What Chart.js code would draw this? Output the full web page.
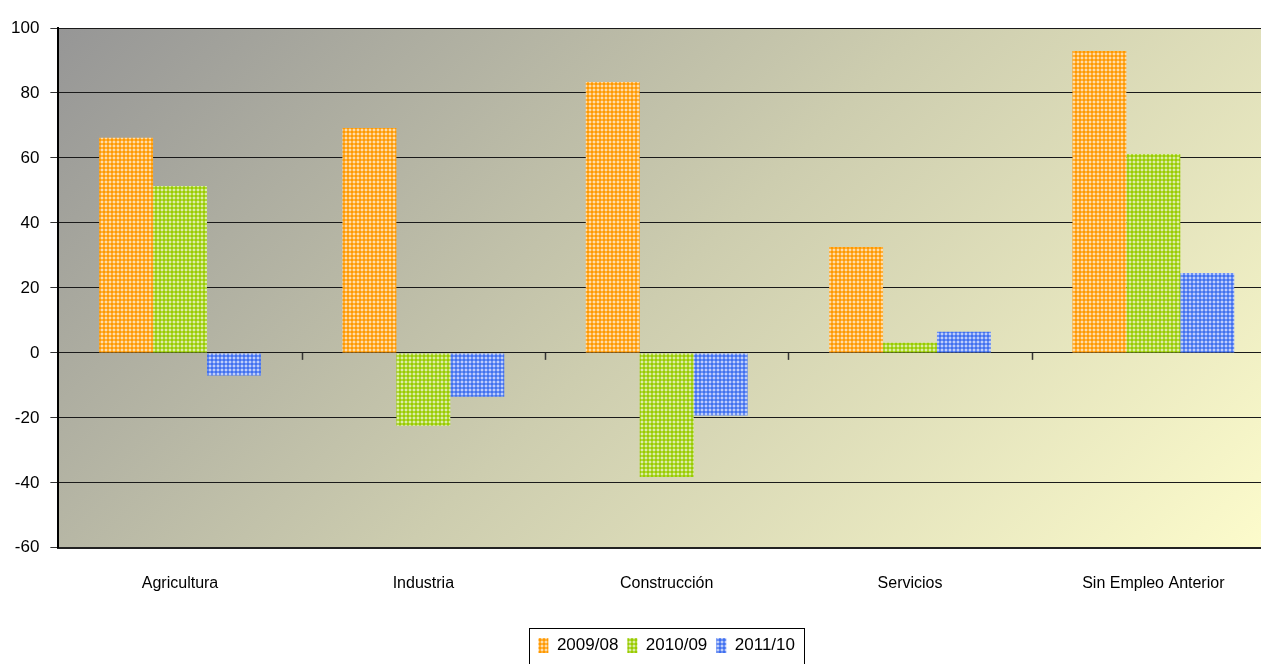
<!DOCTYPE html>
<html>
<head>
<meta charset="utf-8">
<script src="https://cdn.jsdelivr.net/npm/chart.js@4.4.1/dist/chart.umd.min.js"></script>
<style>
  html,body{margin:0;padding:0;background:#fff;overflow:hidden}
  #wrap{position:absolute;left:0;top:0;width:1280px;height:687px}
</style>
</head>
<body>
<div id="wrap"><canvas id="chart"></canvas></div>
<script>
// data
const categories = ['Agricultura','Industria','Construcción','Servicios','Sin Empleo Anterior'];
const seriesNames = ['2009/08','2010/09','2011/10'];
const v2009 = [66.2, 69.2, 83.4, 32.6, 92.9];
const v2010 = [51.4, -22.4, -38.2, 3.1, 61.2];
const v2011 = [-7.0, -13.5, -19.3, 6.5, 24.6];
const yTicks = [-60,-40,-20,0,20,40,60,80,100];

const FONT = 'Arial, "Liberation Sans", sans-serif';

// checked dotted fill like the old office charts
function dots(base) {
  const c = document.createElement('canvas');
  c.width = 4; c.height = 4;
  const g = c.getContext('2d');
  g.fillStyle = base; g.fillRect(0,0,4,4);
  g.fillStyle = 'rgba(255,255,255,0.22)';
  g.fillRect(0,1,4,2); g.fillRect(1,0,2,4);
  g.fillStyle = 'rgba(255,255,255,0.45)';
  g.fillRect(1,1,2,2);
  return g.createPattern(c, 'repeat');
}
const fills = [dots('#FF9900'), dots('#99CC00'), dots('#4070F0')];

const bgPlugin = {
  id: 'plotBg',
  beforeDraw(chart) {
    const {ctx, chartArea:a} = chart;
    const w = a.right - a.left, h = a.bottom - a.top, d = (w + h) / 2;
    const g = ctx.createLinearGradient(a.left, a.top, a.left + d, a.top + d);
    g.addColorStop(0, '#969696');
    g.addColorStop(0.5, '#CDCDAF');
    g.addColorStop(1, '#FDFCCC');
    ctx.save();
    ctx.fillStyle = g;
    ctx.fillRect(a.left, a.top, w, h);
    ctx.restore();
  }
};

// small tick marks between categories on the zero line + legend frame
const extraPlugin = {
  id: 'extras',
  afterDatasetsDraw(chart) {
    const {ctx, scales:{x, y}} = chart;
    const y0 = y.getPixelForValue(0);
    ctx.save();
    ctx.strokeStyle = '#333';
    ctx.lineWidth = 1.5;
    for (let i = 1; i < categories.length; i++) {
      const px = Math.round((x.getPixelForValue(i-1) + x.getPixelForValue(i)) / 2) + 0.5;
      ctx.beginPath(); ctx.moveTo(px, y0); ctx.lineTo(px, y0 + 7); ctx.stroke();
    }
    ctx.restore();
  },
  afterDraw(chart) {
    const boxes = chart.legend.legendHitBoxes;
    if (!boxes || !boxes.length) return;
    const l = Math.min(...boxes.map(b=>b.left)) - 9;
    const r = Math.max(...boxes.map(b=>b.left + b.width)) + 9;
    const t = boxes[0].top - 9;
    const ctx = chart.ctx;
    ctx.save();
    ctx.strokeStyle = '#000'; ctx.lineWidth = 1;
    ctx.strokeRect(Math.round(l)+0.5, Math.round(t)+0.5, Math.round(r-l), 40);
    ctx.restore();
  }
};

new Chart(document.getElementById('chart'), {
  type: 'bar',
  data: {
    labels: categories,
    datasets: [
      { label: seriesNames[0], data: v2009, backgroundColor: fills[0] },
      { label: seriesNames[1], data: v2010, backgroundColor: fills[1] },
      { label: seriesNames[2], data: v2011, backgroundColor: fills[2] },
    ],
  },
  plugins: [bgPlugin, extraPlugin],
  options: {
    responsive: true, maintainAspectRatio: false, animation: false,
    layout: { padding: { left: 0, right: 5, top: 28, bottom: 23 } },
    datasets: { bar: { barPercentage: 1.0, categoryPercentage: 0.665, borderWidth: 0 } },
    plugins: {
      tooltip: { enabled: false },
      legend: {
        position: 'bottom', fullSize: false,
        labels: { font: { family: FONT, size: 17 }, color: '#000', boxWidth: 10, boxHeight: 15, padding: 9 },
      },
    },
    scales: {
      x: {
        grid: { display: false, drawTicks: false },
        border: { display: true, color: '#222', width: 2 },
        ticks: { font: { family: FONT, size: 16 }, color: '#000', padding: 26, maxRotation: 0 },
        afterFit: s => { s.height += 9; },
      },
      y: {
        min: yTicks[0], max: yTicks[yTicks.length-1],
        afterBuildTicks: s => { s.ticks = yTicks.map(v => ({ value: v })); },
        grid: { color: '#1a1a1a', lineWidth: 1, tickLength: 8, drawTicks: true, tickColor: '#333' },
        border: { display: true, color: '#000', width: 2 },
        ticks: { font: { family: FONT, size: 17 }, color: '#000', padding: 11 },
      },
    },
  },
});
</script>
</body>
</html>
